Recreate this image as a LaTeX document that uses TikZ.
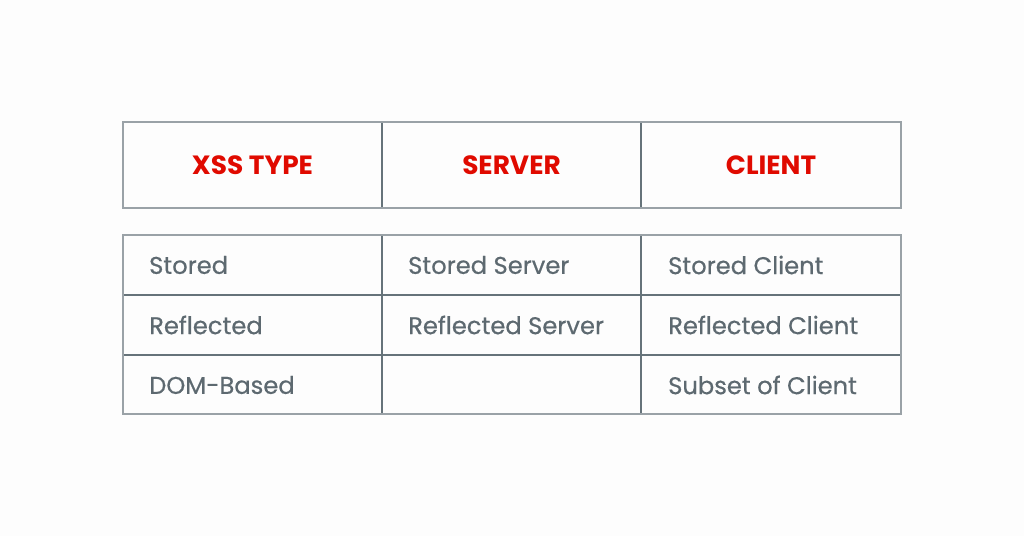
\documentclass[tikz,border=0pt]{standalone}
\usepackage{fontspec}
\setmainfont{Poppins}
\newfontfamily\bodyfont{Poppins}[FakeBold=0.5]
\definecolor{bg}{HTML}{FDFDFD}
\definecolor{hdr}{HTML}{E00A00}
\definecolor{txt}{HTML}{5D6970}
\definecolor{outer}{HTML}{9AA2A7}
\definecolor{inner}{HTML}{66737A}
\begin{document}
\begin{tikzpicture}[x=1pt,y=-1pt,
  headtext/.style={font=\fontsize{26.4}{28}\selectfont\bfseries, text=hdr, anchor=center, inner sep=0pt},
  celltext/.style={font=\bodyfont\fontsize{24.2}{26}\selectfont, text=txt, anchor=west, inner sep=0pt},
  outerline/.style={draw=outer, line width=1.3pt},
  innerline/.style={draw=inner, line width=1.6pt}]
\fill[bg] (0,0) rectangle (1024,536);
\useasboundingbox (0,0) rectangle (1024,536);
% header
\draw[innerline] (382,122) -- (382,208);
\draw[innerline] (641,122) -- (641,208);
\draw[outerline] (123,122) rectangle (901,208);
\node[headtext] (h1) at (252.5,165) {XSS TYPE};
\node[headtext] (h2) at (511.5,165) {SERVER};
\node[headtext] (h3) at (771,165) {CLIENT};
% body
\draw[innerline] (382,235) -- (382,414);
\draw[innerline] (641,235) -- (641,414);
\draw[innerline] (123,295) -- (901,295);
\draw[innerline] (123,355) -- (901,355);
\draw[outerline] (123,235) rectangle (901,414);
\node[celltext] (a1) at (149,265) {Stored};
\node[celltext] (b1) at (408,265) {Stored Server};
\node[celltext] (c1) at (668,265) {Stored Client};
\node[celltext] (a2) at (149,325) {Reflected};
\node[celltext] (b2) at (408,325) {Reflected Server};
\node[celltext] (c2) at (668,325) {Reflected Client};
\node[celltext] (a3) at (149,385) {DOM-Based};
\node[celltext] (c3) at (668,385) {Subset of Client};
\end{tikzpicture}
\end{document}
